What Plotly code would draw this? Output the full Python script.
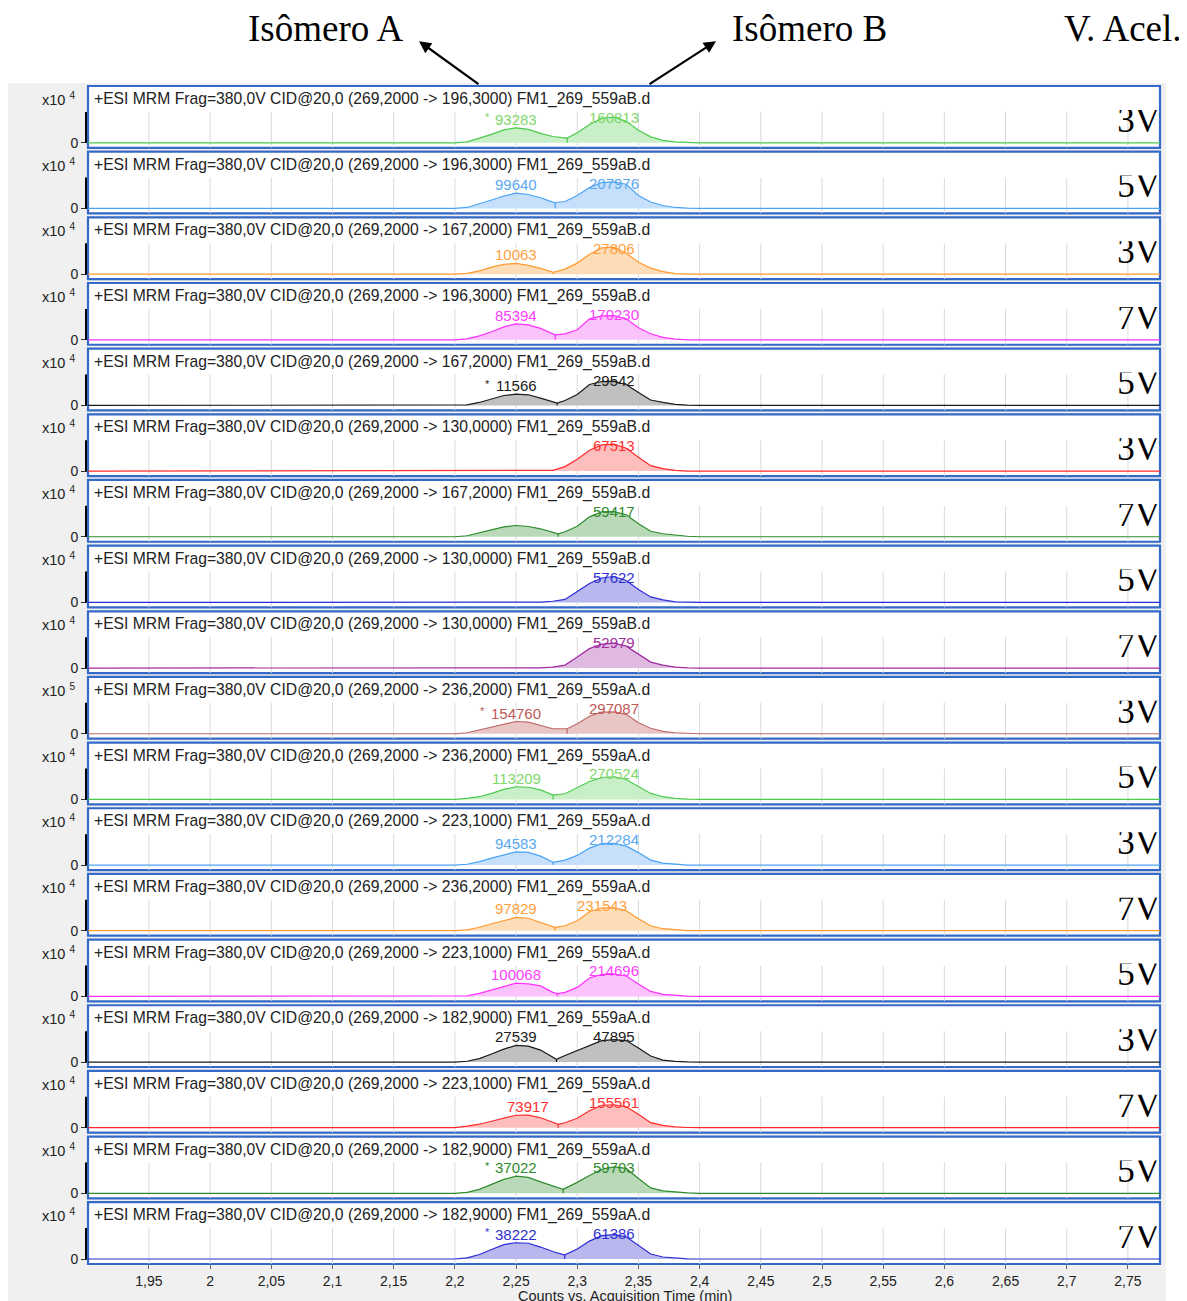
import plotly.graph_objects as go

# ---------------- data ----------------
TIMES = [2.20, 2.21, 2.22, 2.23, 2.24, 2.25, 2.26, 2.27, 2.28, 2.29, 2.30,
         2.31, 2.32, 2.33, 2.34, 2.35, 2.36, 2.37, 2.38, 2.39, 2.40]
ACQ_START, ACQ_END = 1.90, 2.78

# relative intensity (panel autoscale units) for each transition, at TIMES
P01 = [0, 1, 4.5, 8.5, 13, 15, 13.5, 9.5, 6.3, 5.2, 10, 18.3, 24.5, 25.7, 21.5, 12.5, 6, 2.5, 1, 0.5, 0]
P02 = [0, 1, 4.5, 8.5, 12.5, 15.3, 14, 10.8, 6.4, 7, 13, 21, 26, 26.7, 24.3, 13, 6.5, 3, 1, 0.3, 0]
P03 = [0, 0.8, 3.3, 7, 9.7, 10.7, 8.8, 5.8, 1.9, 5, 11, 20, 26.3, 27, 21, 12, 6, 2.5, 0.6, 0, 0]
P04 = [0, 1, 4, 8, 13, 16, 15, 11.5, 6, 6, 10, 21, 24, 24.3, 21, 12, 6, 2.5, 0.7, 0, 0]
P05 = [0, 0.5, 3, 6.5, 10, 11.3, 10.7, 7.3, 3.3, 5, 11, 21, 24, 24.2, 21, 13, 5.5, 3, 1, 0.3, 0]
P06 = [0, 0, 0.3, 0.3, 0.3, 0.3, 0.3, 0.5, 0.7, 4.5, 12, 21, 26.3, 27, 23, 14, 5.5, 2.5, 0.8, 0, 0]
P07 = [0, 1, 4, 7.5, 10, 11.3, 10.3, 8, 4.5, 5, 10.5, 20, 25, 25.2, 22, 13, 5.5, 3, 1.5, 0.5, 0]
P08 = [0, 0, 0.3, 0.3, 0.3, 0.3, 0.3, 0.3, 1.2, 3, 11, 19, 24.5, 26, 22, 13, 5.5, 2.5, 0.5, 0, 0]
P09 = [0, 0, 0.3, 0.3, 0.3, 0.3, 0.3, 0.3, 1, 3, 11, 19.5, 24, 25, 22, 14, 6, 3, 1, 0.3, 0]
P10 = [0, 1, 4, 6.5, 10, 12.3, 11.7, 8.3, 5, 5, 10, 17.5, 21.7, 22, 19.5, 11, 5.5, 2.3, 1, 0.5, 0]
P11 = [0, 1, 2.7, 6, 10, 12.7, 12.2, 9.5, 4.5, 5.7, 12, 18, 22, 22.7, 20, 13, 6, 2.7, 1, 0.3, 0]
P12 = [0, 0.8, 3.5, 7, 10.5, 13.3, 12.7, 9, 3, 5, 9.7, 17, 21.5, 21.7, 19, 12.5, 5, 2, 0.8, 0, 0]
P13 = [0, 0.8, 3.5, 7, 10.5, 13.3, 12.5, 8.5, 3.7, 5, 10, 19, 23, 23, 20, 12, 5, 2, 0.8, 0, 0]
P14 = [0, 0.5, 3, 6.5, 10.5, 13.3, 12.5, 10.5, 4, 4, 9, 18.5, 22, 22.3, 20.5, 12.5, 5, 2, 0.8, 0.3, 0]
P15 = [0, 0.8, 3.5, 8, 13, 16.7, 16, 12, 4.5, 6.5, 11.5, 17, 21.5, 22.5, 21.5, 14, 6, 2, 0.7, 0.2, 0]
P16 = [0, 1.5, 3.5, 6.5, 9.5, 12.5, 12.7, 10, 5.5, 5, 9.5, 17, 22.5, 23, 21, 13.5, 5, 2.3, 0.8, 0.2, 0]
P17 = [0, 1, 4, 9, 14, 17.3, 16, 11.5, 7.5, 5, 11, 18, 24, 26.5, 25, 15, 5.5, 2.5, 1.3, 0.5, 0]
P18 = [0, 1.2, 4.5, 9.5, 14.5, 16.3, 15.8, 12, 7.5, 4.2, 10, 18, 23.5, 24.5, 22.3, 13.5, 5, 2, 0.8, 0.2, 0]
PANELS = [P01, P02, P03, P04, P05, P06, P07, P08, P09, P10, P11, P12, P13, P14, P15, P16, P17, P18]

# peak split (drop line) time and height, None when single peak
SPLIT_T = [2.2918, 2.2820, 2.2805, 2.2820, 2.2836, None, 2.2844, None, None,
           2.2917, 2.2803, 2.2803, 2.2817, 2.2836, 2.2830, 2.2844, 2.2885, 2.2898]
SPLIT_Y = [4.7, 6, 1.7, 5, 2.3, None, 3, None, None,
           5, 4.3, 2.7, 3.3, 2.7, 2.7, 3.3, 4, 4]

AREA_A = ["93283", "99640", "10063", "85394", "11566", None, None, None, None,
          "154760", "113209", "94583", "97829", "100068", "27539", "73917", "37022", "38222"]
AREA_B = ["160813", "207976", "27806", "170230", "29542", "67513", "59417", "57622", "52979",
          "297087", "270524", "212284", "231543", "214696", "47895", "155561", "59703", "61386"]
STAR_A = [True, False, False, False, True, False, False, False, False,
          True, False, False, False, False, False, False, True, True]

TRANSITIONS = ["196,3000", "196,3000", "167,2000", "196,3000", "167,2000", "130,0000",
               "167,2000", "130,0000", "130,0000", "236,2000", "236,2000", "223,1000",
               "236,2000", "223,1000", "182,9000", "223,1000", "182,9000", "182,9000"]
FILES = ["FM1_269_559aB.d"] * 9 + ["FM1_269_559aA.d"] * 9
EXPONENTS = [4, 4, 4, 4, 4, 4, 4, 4, 4, 5, 4, 4, 4, 4, 4, 4, 4, 4]
VOLTAGES = ["3V", "5V", "3V", "7V", "5V", "3V", "7V", "5V", "7V",
            "3V", "5V", "3V", "7V", "5V", "3V", "7V", "5V", "7V"]

TICK_VALS = [1.95, 2.00, 2.05, 2.10, 2.15, 2.20, 2.25, 2.30, 2.35, 2.40,
             2.45, 2.50, 2.55, 2.60, 2.65, 2.70, 2.75]
TICK_TEXT = ["1,95", "2", "2,05", "2,1", "2,15", "2,2", "2,25", "2,3", "2,35", "2,4",
             "2,45", "2,5", "2,55", "2,6", "2,65", "2,7", "2,75"]

HEADERS = ["Isômero A", "Isômero B", "V. Acel."]
X_TITLE = "Counts vs. Acquisition Time (min)"

# ---------------- styles ----------------
LINE_COLORS = ["#4ccb4c", "#4aa3f5", "#ff9a2e", "#ff30ff", "#1a1a1a",
               "#ff2a2a", "#2e8b2e", "#2b2bd6", "#a02ba0", "#c26a6a"]
LABEL_COLORS = ["#7fd86a", "#5aa8f0", "#ff9f40", "#ff40ff", "#202020",
                "#ff3030", "#2e8b2e", "#3030d0", "#a030a0", "#c05858"]
FILL_COLORS = ["#c8efc8", "#c6e0fb", "#fddcb8", "#fcc2fc", "#c0c0c0",
               "#ffbebe", "#b9d9b9", "#b8b8ee", "#dfb9df", "#e8c6c6"]

OFF = 8                      # page body margin of the browser
W, H = 1187 - OFF, 1301 - OFF
ML, MR, MT, MB = 88 - OFF, 27, 86 - OFF, 33
PW = W - ML - MR
PH = H - MT - MB
N = len(PANELS)
BOX = 62
PITCH = (PH - BOX) / (N - 1)
X_RANGE = [1.9002, 1.9002 + PW / 1223.75]
Y_RANGE = [-5, 57]
CLIP_TOP = 24
SANS = "Liberation Sans, Arial, sans-serif"
SERIF = "Liberation Serif, Times New Roman, serif"


# helpers take pixel positions measured on the reference page
def px_x(p):
    return (p - 88) / PW


def px_y(p):
    return 1 - (p - 86) / PH


fig = go.Figure()
layout = dict(
    width=W, height=H,
    margin=dict(l=ML, r=MR, t=MT, b=MB, pad=0),
    paper_bgcolor="white", plot_bgcolor="rgba(0,0,0,0)",
    showlegend=False,
    xaxis=dict(domain=[0, 1], range=X_RANGE, anchor="y18", tickvals=TICK_VALS,
               ticktext=TICK_TEXT, ticks="outside", ticklen=4, tickcolor="#666",
               showgrid=False, zeroline=False, showline=False, fixedrange=True,
               tickfont=dict(family=SANS, size=14, color="#222")),
)
shapes = [dict(type="rect", xref="paper", yref="paper",
               x0=px_x(8), x1=px_x(1166), y0=px_y(1310), y1=px_y(83),
               fillcolor="#f0f0f0", line=dict(width=0), layer="below")]
annotations = []

for i, vals in enumerate(PANELS):
    c = i % len(LINE_COLORS)
    top = 86 + i * PITCH
    bot = top + BOX
    ax_id = i + 1
    clip_id = N + i + 1
    yname = "yaxis" if ax_id == 1 else f"yaxis{ax_id}"
    yref = "y" if ax_id == 1 else f"y{ax_id}"
    layout[yname] = dict(domain=[px_y(bot), px_y(top)], range=Y_RANGE, anchor="x",
                         showgrid=False, zeroline=False, showline=False,
                         tickvals=[0], ticktext=["0"], ticks="outside", ticklen=6,
                         tickcolor="#333", fixedrange=True,
                         tickfont=dict(family=SANS, size=14, color="#222"))
    layout[f"yaxis{clip_id}"] = dict(domain=[px_y(bot), px_y(top + CLIP_TOP)],
                                     range=[Y_RANGE[0], Y_RANGE[1] - CLIP_TOP],
                                     anchor="x", visible=False, fixedrange=True)

    # panel box
    shapes.append(dict(type="rect", xref="paper", yref="paper", x0=0, x1=1,
                       y0=px_y(bot), y1=px_y(top), fillcolor="white",
                       line=dict(color="#3569c8", width=2.2), layer="below"))
    # black y bar
    shapes.append(dict(type="line", xref="paper", yref=yref, x0=px_x(86), x1=px_x(86),
                       y0=0, y1=31, line=dict(color="black", width=2)))

    # grid
    gx, gy = [], []
    for t in TICK_VALS:
        gx += [t, t, None]
        gy += [Y_RANGE[0], 31, None]
    fig.add_trace(go.Scatter(x=gx, y=gy, mode="lines", yaxis=yref,
                             line=dict(color="#dadada", width=1), hoverinfo="skip"))

    # chromatogram points (with split point merged)
    pts = list(zip(TIMES, vals))
    if SPLIT_T[i] is not None:
        pts.append((SPLIT_T[i], SPLIT_Y[i]))
    pts.sort()
    tx = [p[0] for p in pts]
    ty = [p[1] for p in pts]

    fig.add_trace(go.Scatter(x=tx, y=ty, mode="lines", fill="tozeroy", yaxis=yref,
                             fillcolor=FILL_COLORS[c], line=dict(width=0),
                             hoverinfo="skip"))
    fig.add_trace(go.Scatter(x=[ACQ_START] + tx + [ACQ_END], y=[0] + ty + [0],
                             mode="lines", yaxis=yref,
                             line=dict(color=LINE_COLORS[c], width=1.2), hoverinfo="skip"))
    if SPLIT_T[i] is not None:
        fig.add_trace(go.Scatter(x=[SPLIT_T[i], SPLIT_T[i]], y=[0, SPLIT_Y[i]],
                                 mode="lines", yaxis=yref,
                                 line=dict(color=LINE_COLORS[c], width=1.2),
                                 hoverinfo="skip"))

    # voltage label (clipped at top like the original)
    fig.add_trace(go.Scatter(x=[X_RANGE[1]], y=[20], mode="text", text=[VOLTAGES[i]],
                             textposition="middle left", yaxis=f"y{clip_id}",
                             cliponaxis=True,
                             textfont=dict(family=SERIF, size=35, color="black"),
                             hoverinfo="skip"))

    # peak labels
    st = SPLIT_T[i]
    if st is not None:
        a_pts = [p for p in pts if p[0] < st]
        b_pts = [p for p in pts if p[0] > st]
    else:
        a_pts, b_pts = [], pts
    for label, region, star in ((AREA_A[i], a_pts, STAR_A[i]), (AREA_B[i], b_pts, False)):
        if label is None or not region:
            continue
        apex = max(region, key=lambda p: p[1])
        ly = min(apex[1] + 8.5, 25.5)
        annotations.append(dict(x=apex[0], y=ly, xref="x", yref=yref, text=label,
                                showarrow=False, xanchor="center", yanchor="middle",
                                font=dict(family=SANS, size=15, color=LABEL_COLORS[c])))
        if star:
            annotations.append(dict(x=apex[0], y=ly + 2, xref="x", yref=yref, text="*",
                                    showarrow=False, xanchor="right", yanchor="middle",
                                    xshift=-(len(label) * 4.3 + 3),
                                    font=dict(family=SANS, size=11,
                                              color=LABEL_COLORS[c])))

    # title
    annotations.append(dict(x=px_x(92), y=px_y(top + 13), xref="paper", yref="paper",
                            text=f"+ESI MRM Frag=380,0V CID@20,0 (269,2000 -> {TRANSITIONS[i]}) {FILES[i]}",
                            showarrow=False, xanchor="left", yanchor="middle",
                            font=dict(family=SANS, size=15.7, color="#222")))
    # exponent
    annotations.append(dict(x=px_x(77), y=px_y(top + 13), xref="paper", yref="paper",
                            text=f"x10 <sup>{EXPONENTS[i]}</sup>", showarrow=False,
                            xanchor="right", yanchor="middle",
                            font=dict(family=SANS, size=14.5, color="#222")))

# header texts
for txt, cx in zip(HEADERS, [325, 809, 1123]):
    annotations.append(dict(x=px_x(cx), y=px_y(28), xref="paper", yref="paper", text=txt,
                            showarrow=False, xanchor="center", yanchor="middle",
                            font=dict(family=SERIF, size=37, color="black")))
# arrows
for (hx, hy, tx_, ty_) in [(419, 41, 480, 85), (716, 41, 648, 85)]:
    annotations.append(dict(x=px_x(hx), y=px_y(hy), xref="paper", yref="paper", text="",
                            showarrow=True, ax=tx_ - hx, ay=ty_ - hy, axref="pixel",
                            ayref="pixel", arrowhead=2, arrowsize=1.1, arrowwidth=2.2,
                            arrowcolor="black"))
# x axis title (partly below the page edge, as in the original)
annotations.append(dict(x=px_x(625), y=px_y(1300), xref="paper", yref="paper",
                        text=X_TITLE, showarrow=False, xanchor="center", yanchor="middle",
                        font=dict(family=SANS, size=14.5, color="#222")))

layout["shapes"] = shapes
layout["annotations"] = annotations
fig.update_layout(**layout)
fig.write_html("out.html")
